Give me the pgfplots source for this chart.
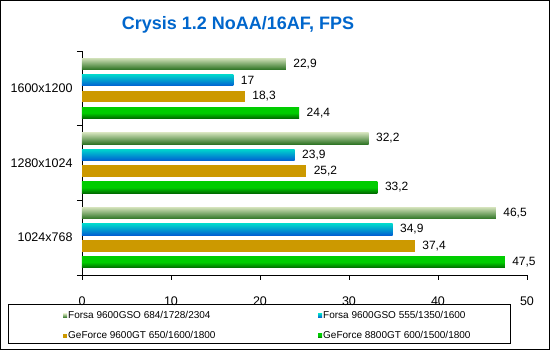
\documentclass[border=0pt]{standalone}
\usepackage{pgfplots}
\pgfplotsset{compat=1.18}
\usepackage{fontspec}
\setmainfont{Liberation Sans}
\definecolor{titleblue}{RGB}{0,102,204}
\definecolor{lgTop}{RGB}{208,224,184}
\definecolor{lgBot}{RGB}{45,115,35}
\definecolor{cyTop}{RGB}{0,215,205}
\definecolor{cyBot}{RGB}{0,95,210}
\definecolor{gold}{RGB}{204,153,0}
\definecolor{grTop}{RGB}{0,205,0}
\definecolor{grBot}{RGB}{0,105,0}
\pgfplotsset{
  sq/.style={legend image code/.code={\fill[##1] (0pt,-2pt) rectangle (4pt,2pt);}},
  s1/.style={xbar, bar width=11.5pt, bar shift=24.5pt, draw=none, top color=lgTop, bottom color=lgBot, sq,
     every node near coord/.append style={yshift=24.5pt}},
  s2/.style={xbar, bar width=11.5pt, bar shift=8.2pt, draw=none, top color=cyTop, bottom color=cyBot, sq,
     every node near coord/.append style={yshift=8.2pt}},
  s3/.style={xbar, bar width=11.5pt, bar shift=-8.2pt, draw=none, fill=gold, sq,
     every node near coord/.append style={yshift=-8.2pt}},
  s4/.style={xbar, bar width=11.5pt, bar shift=-24.5pt, draw=none, top color=grTop, bottom color=grBot, middle color=grTop, sq,
     every node near coord/.append style={yshift=-24.5pt}},
}
\begin{document}
\begin{tikzpicture}[x=1pt,y=1pt]
\useasboundingbox (0,0) rectangle (550,350);
\draw[line width=1pt] (0.5,0.5) rectangle (549.5,349.5);
\node[font=\fontsize{18}{20}\selectfont\bfseries, text=titleblue] at (238,325) {Crysis 1.2 NoAA/16AF, FPS};
\draw[line width=1pt] (8.5,6) rectangle (510,45);
\begin{axis}[
  at={(82pt,75pt)}, anchor=south west,
  scale only axis, width=445pt, height=224pt,
  xmin=0, xmax=50, ymin=-0.5, ymax=2.5,
  axis lines=left, axis line style={-, line width=0.8pt},
  tick align=outside,
  xtick={0,10,...,50},
  ytick={0,1,2}, yticklabels={1024x768,1280x1024,1600x1200},
  major y tick style={draw=none},
  minor ytick={-0.5,0.5,1.5,2.5},
  major tick length=5pt, minor tick length=5pt,
  tick style={black, line width=0.8pt},
  tick label style={font=\fontsize{12.5}{14}\selectfont},
  xticklabel style={yshift=-13pt},
  yticklabel style={xshift=-1pt},
  /pgf/number format/assume math mode=true,
  /pgf/number format/use comma,
  point meta=x,
  nodes near coords,
  nodes near coords align={horizontal},
  every node near coord/.append style={font=\fontsize{12}{14}\selectfont, black, anchor=west, xshift=4pt},
  legend columns=2,
  legend cell align=left,
  legend style={draw=none, fill=none, inner sep=0pt, anchor=north west,
    at={(axis description cs:-0.0427,-0.155)},
    font=\fontsize{10}{12}\selectfont,
    nodes={inner sep=1pt, text height=7.5pt, text depth=2pt},
    row sep=8.5pt,
    /tikz/every even column/.append style={column sep=4pt}},
]
\addplot[s1] coordinates {(22.9,2)};
\addlegendentry{\makebox[245pt][l]{Forsa 9600GSO 684/1728/2304}}
\addplot[s2] coordinates {(17,2)};
\addlegendentry{\makebox[180pt][l]{Forsa 9600GSO 555/1350/1600}}
\addplot[s3] coordinates {(18.3,2)};
\addlegendentry{GeForce 9600GT 650/1600/1800}
\addplot[s4] coordinates {(24.4,2)};
\addlegendentry{GeForce 8800GT 600/1500/1800}
\addplot[s1, forget plot] coordinates {(32.2,1)};
\addplot[s2, forget plot] coordinates {(23.9,1)};
\addplot[s3, forget plot] coordinates {(25.2,1)};
\addplot[s4, forget plot] coordinates {(33.2,1)};
\addplot[s1, forget plot] coordinates {(46.5,0)};
\addplot[s2, forget plot] coordinates {(34.9,0)};
\addplot[s3, forget plot] coordinates {(37.4,0)};
\addplot[s4, forget plot] coordinates {(47.5,0)};
\end{axis}
\end{tikzpicture}
\end{document}
